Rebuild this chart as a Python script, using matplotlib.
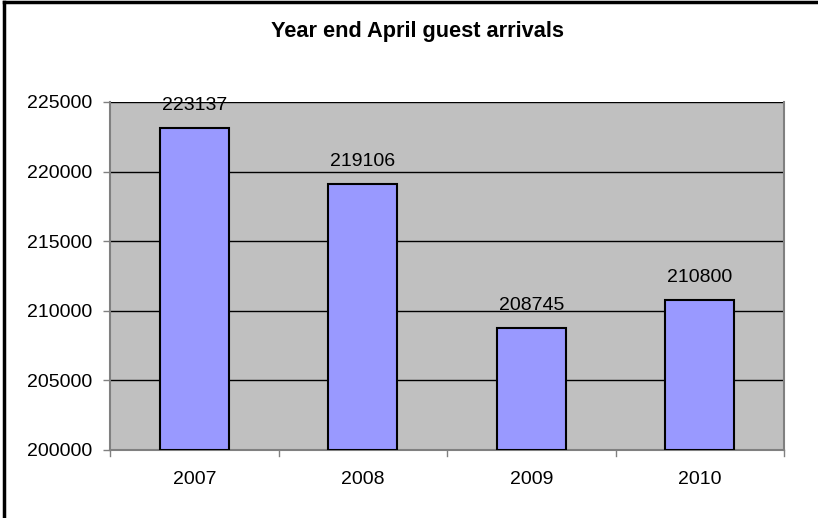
import matplotlib.pyplot as plt
from matplotlib.lines import Line2D

years = ["2007", "2008", "2009", "2010"]
arrivals = [223137, 219106, 208745, 210800]
yticks = [200000, 205000, 210000, 215000, 220000, 225000]

plt.rcParams['font.family'] = ['Liberation Sans', 'DejaVu Sans']

fig = plt.figure(figsize=(8.18, 5.18), dpi=100)
W, H = 818, 518
ax = fig.add_axes([110 / W, 1 - 450 / H, (784 - 110) / W, (450 - 102) / H])
ax.set_facecolor('#C0C0C0')

x = range(len(years))
bars = ax.bar(x, [v - yticks[0] for v in arrivals], bottom=yticks[0], width=0.41,
              color='#9999FF', edgecolor='black', linewidth=1.5, zorder=3)

for xi, v in zip(x, arrivals):
    ax.annotate(str(v), (xi, v), xytext=(0, 13), textcoords='offset points',
                ha='center', va='baseline', fontsize=14, zorder=4,
                annotation_clip=False)

ax.set_xlim(-0.5, len(years) - 0.5)
ax.set_ylim(yticks[0], yticks[-1])
ax.set_yticks(yticks)
ax.set_yticklabels([str(t) for t in yticks], fontsize=14)
ax.set_xticks(list(x))
ax.set_xticklabels(years, fontsize=14)
ax.tick_params(axis='x', length=0, pad=15)
ax.tick_params(axis='y', length=5, width=1, color='#808080', pad=8)
# category separator ticks
for b in [i - 0.5 for i in range(len(years) + 1)]:
    ax.plot([b, b], [yticks[0], yticks[0] - 400], color='#808080', lw=1,
            clip_on=False, zorder=5)

ax.grid(axis='y', color='black', linewidth=1, zorder=1)
ax.set_axisbelow(True)
ax.spines['top'].set_visible(False)
for side in ['right', 'left', 'bottom']:
    ax.spines[side].set_color('#808080')
    ax.spines[side].set_linewidth(1.5)

fig.text(417 / W, 1 - 31 / H, "Year end April guest arrivals", ha='center', va='center',
         fontsize=15.7, fontweight='bold')

# outer chart border (left and top visible)
fig.add_artist(Line2D([4 / W, 4 / W], [0, 1 - 2 / H], color='black', lw=2.5,
                      transform=fig.transFigure))
fig.add_artist(Line2D([4 / W, 1], [1 - 2 / H, 1 - 2 / H], color='black', lw=2.5,
                      transform=fig.transFigure))

fig.savefig("out.png", dpi=100)
